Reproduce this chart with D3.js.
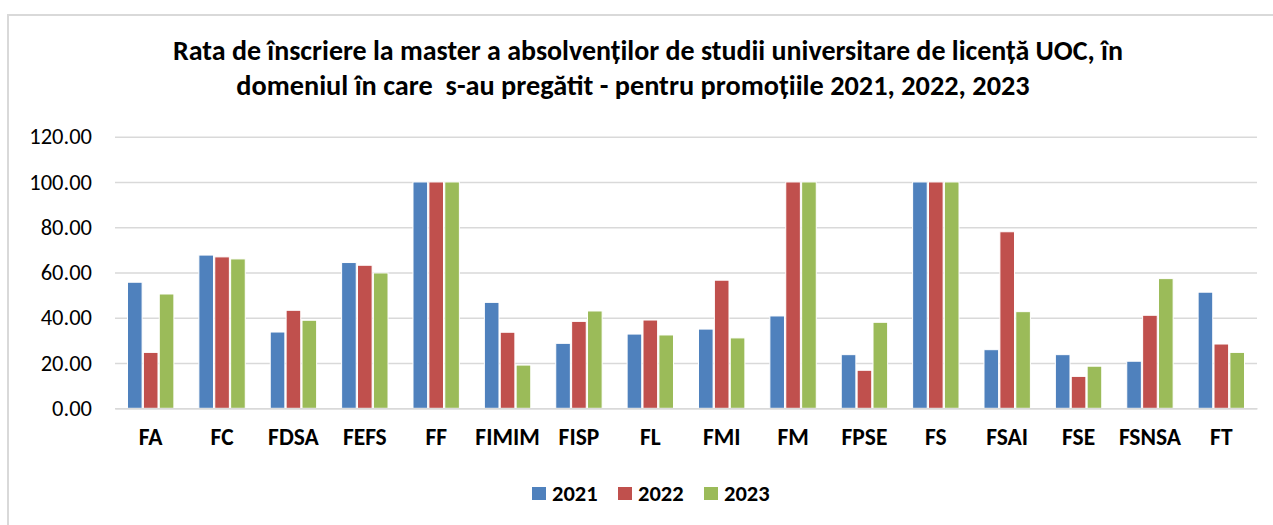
<!DOCTYPE html>
<html>
<head>
<meta charset="utf-8">
<script src="https://cdn.jsdelivr.net/npm/d3@7"></script>
<style>
  html, body { margin: 0; padding: 0; background: #fff; }
  svg { display: block; }
  text { font-family: Carlito, Calibri, "Open Sans", "Noto Sans", sans-serif; fill: #000; }
</style>
</head>
<body>
<svg id="chart" width="1273" height="525"></svg>
<script>
// Enrolment rate (%) per faculty, by graduating class
const categories = ["FA", "FC", "FDSA", "FEFS", "FF", "FIMIM", "FISP", "FL", "FMI", "FM", "FPSE", "FS", "FSAI", "FSE", "FSNSA", "FT"];
const seriesNames = ["2021", "2022", "2023"];
const values2021 = [55.7, 67.7, 33.7, 64.4, 100, 46.8, 28.7, 32.8, 35.0, 40.8, 23.7, 100, 25.9, 23.7, 20.8, 51.3];
const values2022 = [24.7, 66.9, 43.3, 63.2, 100, 33.6, 38.4, 39.0, 56.6, 100, 16.8, 100, 78.0, 14.1, 41.1, 28.4];
const values2023 = [50.5, 66.0, 38.9, 59.8, 100, 19.1, 43.0, 32.4, 31.1, 100, 38.0, 100, 42.7, 18.6, 57.3, 24.7];
const yTicks = [0, 20, 40, 60, 80, 100, 120];
const titleLines = [
  "Rata de înscriere la master a absolvenților de studii universitare de licență UOC, în",
  "domeniul în care  s-au pregătit - pentru promoțiile 2021, 2022, 2023"
];
const colors = ["#4F81BD", "#C0504D", "#9BBB59"];

const seriesValues = [values2021, values2022, values2023];
const rows = categories.map((c, i) => ({
  cat: c,
  vals: seriesNames.map((s, j) => ({ key: s, value: seriesValues[j][i], color: colors[j] }))
}));

const svg = d3.select("#chart");

// chart area border
svg.append("rect")
  .attr("x", 8).attr("y", 15)
  .attr("width", 1300).attr("height", 560)
  .attr("fill", "#fff")
  .attr("stroke", "#d9d9d9").attr("stroke-width", 2);

const plot = { left: 115, right: 1257, top: 136.7, bottom: 408.3 };

const x = d3.scaleBand()
  .domain(categories)
  .range([plot.left, plot.right])
  .paddingInner(0.35)
  .paddingOuter(0.175);

const xs = d3.scaleBand()
  .domain(seriesNames)
  .range([0, x.bandwidth()])
  .paddingInner(0.08);

const y = d3.scaleLinear()
  .domain([0, 120])
  .range([plot.bottom, plot.top]);

// gridlines and y labels
const yAxis = d3.axisLeft(y)
  .tickValues(yTicks)
  .tickSize(-(plot.right - plot.left))
  .tickPadding(23)
  .tickFormat(d3.format(".2f"));

const gy = svg.append("g")
  .attr("transform", `translate(${plot.left},0)`)
  .call(yAxis);
gy.select(".domain").remove();
gy.selectAll(".tick line").attr("stroke", "#d9d9d9").attr("stroke-width", 1.5);
gy.selectAll(".tick text")
  .attr("font-size", 22.5)
  .attr("fill", "#000")
  .style("font-family", "Carlito, Calibri, 'Open Sans', sans-serif");

// bars
const groups = svg.append("g").selectAll("g")
  .data(rows)
  .join("g")
  .attr("transform", d => `translate(${x(d.cat)},0)`);

groups.selectAll("rect")
  .data(d => d.vals)
  .join("rect")
  .attr("x", d => xs(d.key))
  .attr("y", d => y(d.value))
  .attr("width", xs.bandwidth())
  .attr("height", d => y(0) - y(d.value))
  .attr("fill", d => d.color)
  .attr("stroke", "#fff")
  .attr("stroke-width", 1);

// x axis with bold category labels
const xAxis = d3.axisBottom(x).tickSize(0).tickPadding(20);
const gx = svg.append("g")
  .attr("transform", `translate(0,${plot.bottom})`)
  .call(xAxis);
gx.select(".domain").attr("stroke", "#d9d9d9").attr("stroke-width", 1.5);
gx.selectAll(".tick text")
  .attr("font-size", 23.5)
  .attr("font-weight", "bold")
  .attr("fill", "#000")
  .style("font-family", "Carlito, Calibri, 'Open Sans', sans-serif");

// title, sized to its line width
const titleWidths = [950, 794];
const titleCenters = [648, 633];
const titleY = [60, 95];
titleLines.forEach((line, i) => {
  const t = svg.append("text")
    .attr("x", titleCenters[i])
    .attr("y", titleY[i])
    .attr("text-anchor", "middle")
    .attr("font-weight", "bold")
    .attr("font-size", 20)
    .style("white-space", "pre")
    .text(line);
  const w = t.node().getComputedTextLength();
  t.attr("font-size", 20 * titleWidths[i] / w);
});

// legend
const legendX = [532, 618, 704];
const legend = svg.append("g").selectAll("g")
  .data(seriesNames)
  .join("g")
  .attr("transform", (d, i) => `translate(${legendX[i]},487)`);
legend.append("rect")
  .attr("width", 14).attr("height", 13)
  .attr("fill", (d, i) => colors[i]);
legend.append("text")
  .attr("x", 20).attr("y", 14)
  .attr("font-size", 22.5)
  .attr("font-weight", "bold")
  .text(d => d);
</script>
</body>
</html>
